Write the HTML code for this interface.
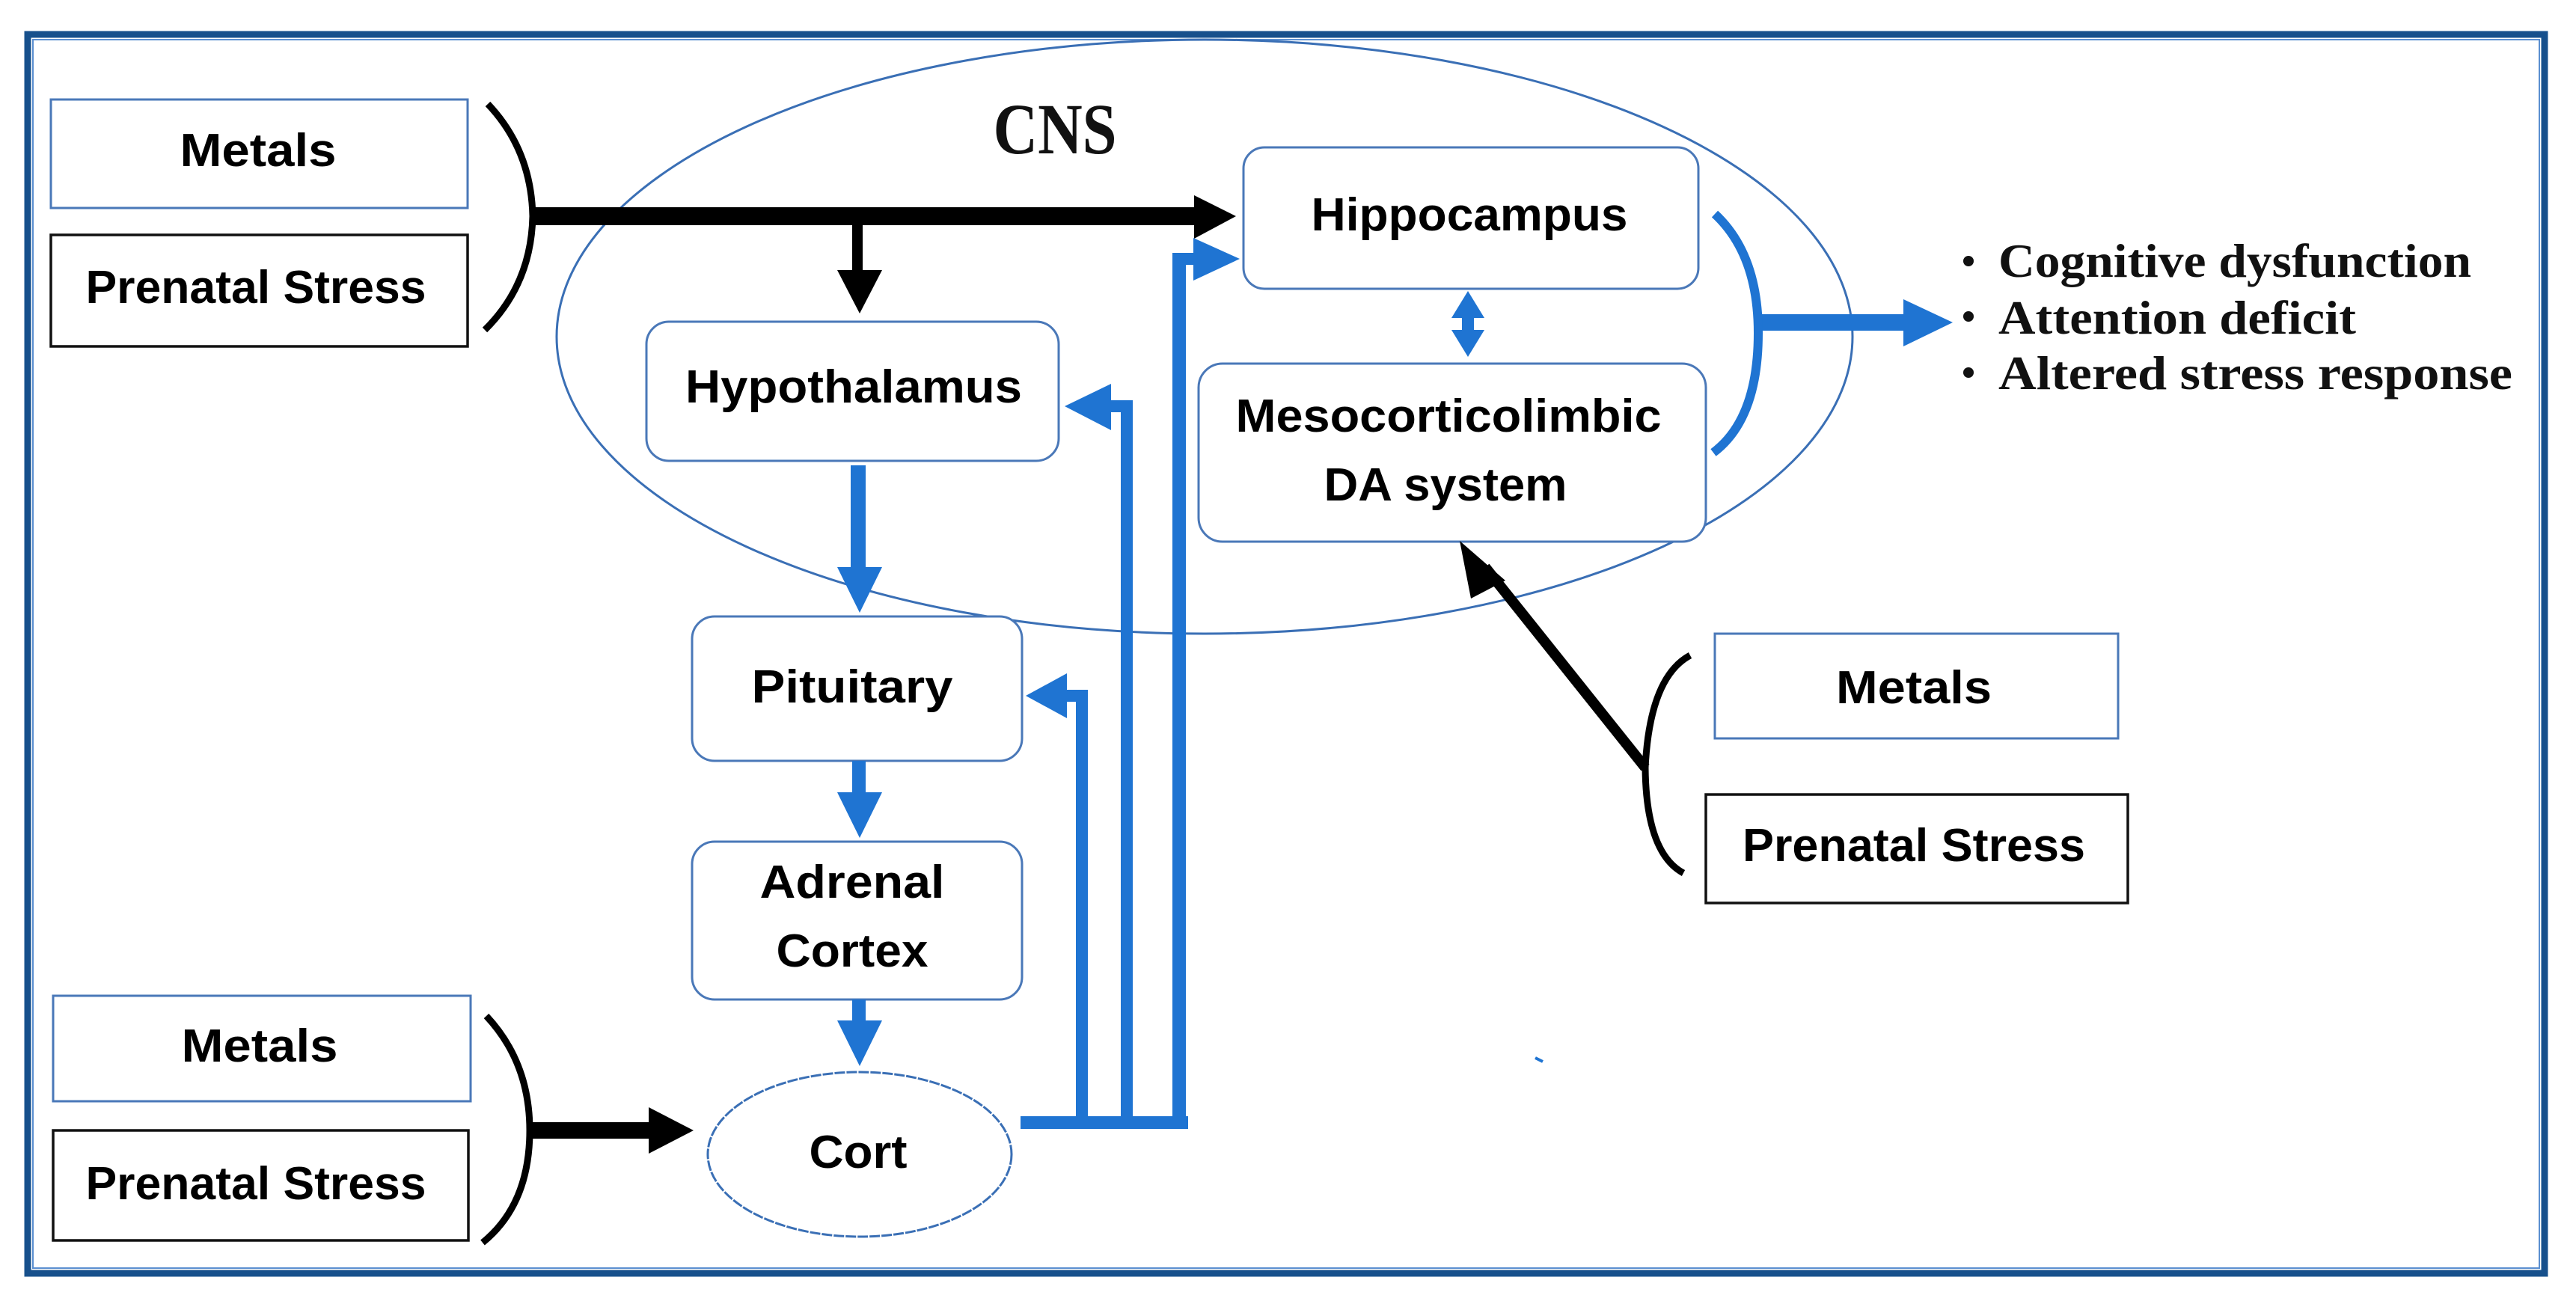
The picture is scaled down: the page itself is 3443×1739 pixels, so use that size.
<!DOCTYPE html>
<html><head><meta charset="utf-8"><style>
html,body{margin:0;padding:0;background:#fff}
svg{display:block}
.lbl{font-family:"Liberation Sans",sans-serif;font-weight:bold;font-size:62px;fill:#000}
.ser{font-family:"Liberation Serif",serif;font-weight:bold;fill:#111}
</style></head><body>
<svg width="3443" height="1739" viewBox="0 0 3443 1739" xmlns="http://www.w3.org/2000/svg">
<rect width="3443" height="1739" fill="#fff"/>
<rect x="37" y="46" width="3364" height="1656" fill="none" stroke="#17508c" stroke-width="9"/>
<rect x="44" y="53" width="3350" height="1642" fill="none" stroke="#5b8fd0" stroke-width="2"/>

<ellipse cx="1610" cy="450" rx="866" ry="397" fill="none" stroke="#3a6fb5" stroke-width="3"/>
<text x="1410" y="205" class="ser" font-size="96" text-anchor="middle" textLength="165" lengthAdjust="spacingAndGlyphs">CNS</text>

<rect x="68" y="133" width="557" height="145" fill="#fff" stroke="#4a78b8" stroke-width="3"/>
<text x="345" y="222" class="lbl" text-anchor="middle" textLength="209" lengthAdjust="spacingAndGlyphs">Metals</text>
<rect x="68" y="314" width="557" height="149" fill="#fff" stroke="#111" stroke-width="3.5"/>
<text x="342" y="405" class="lbl" text-anchor="middle" textLength="455" lengthAdjust="spacingAndGlyphs">Prenatal Stress</text>
<path d="M652 139 Q710 200 712 289 Q710 380 648 441" fill="none" stroke="#000" stroke-width="9"/>

<rect x="710" y="277" width="890" height="24" fill="#000"/>
<polygon points="1596,261 1652,289 1596,319" fill="#000"/>
<rect x="1139" y="295" width="14" height="70" fill="#000"/>
<polygon points="1119,361 1179,361 1149,419" fill="#000"/>

<rect x="1662" y="197" width="608" height="189" rx="28" fill="#fff" stroke="#4a78b8" stroke-width="3"/>
<text x="1964" y="308" class="lbl" text-anchor="middle" textLength="423" lengthAdjust="spacingAndGlyphs">Hippocampus</text>
<rect x="1602" y="486" width="678" height="238" rx="32" fill="#fff" stroke="#4a78b8" stroke-width="3"/>
<text x="1936" y="577" class="lbl" text-anchor="middle" textLength="569" lengthAdjust="spacingAndGlyphs">Mesocorticolimbic</text>
<text x="1932" y="669" class="lbl" text-anchor="middle" textLength="325" lengthAdjust="spacingAndGlyphs">DA system</text>

<rect x="864" y="430" width="551" height="186" rx="30" fill="#fff" stroke="#4a78b8" stroke-width="3"/>
<text x="1141" y="538" class="lbl" text-anchor="middle" textLength="450" lengthAdjust="spacingAndGlyphs">Hypothalamus</text>
<rect x="925" y="824" width="441" height="193" rx="30" fill="#fff" stroke="#4a78b8" stroke-width="3"/>
<text x="1139" y="939" class="lbl" text-anchor="middle" textLength="269" lengthAdjust="spacingAndGlyphs">Pituitary</text>
<rect x="925" y="1125" width="441" height="211" rx="30" fill="#fff" stroke="#4a78b8" stroke-width="3"/>
<text x="1139" y="1200" class="lbl" text-anchor="middle" textLength="247" lengthAdjust="spacingAndGlyphs">Adrenal</text>
<text x="1139" y="1292" class="lbl" text-anchor="middle" textLength="203" lengthAdjust="spacingAndGlyphs">Cortex</text>
<ellipse cx="1149" cy="1543" rx="203" ry="110" fill="#fff" stroke="#3a6fb5" stroke-width="3" stroke-dasharray="14 2"/>
<text x="1147" y="1561" class="lbl" text-anchor="middle" textLength="131" lengthAdjust="spacingAndGlyphs">Cort</text>

<g fill="#1f74d2">
<rect x="1137" y="622" width="20" height="140"/>
<polygon points="1119,758 1179,758 1149,819"/>
<rect x="1139" y="1017" width="18" height="45"/>
<polygon points="1119,1059 1179,1059 1149,1120"/>
<rect x="1139" y="1336" width="18" height="30"/>
<polygon points="1119,1364 1179,1364 1149,1425"/>
<polygon points="1962,389 1984,425 1940,425"/>
<polygon points="1962,477 1984,441 1940,441"/>
<rect x="1954" y="420" width="16" height="26"/>
<rect x="1364" y="1492" width="224" height="17"/>
<rect x="1438" y="925" width="16" height="584"/>
<rect x="1420" y="922" width="34" height="16"/>
<polygon points="1371,930 1426,900 1426,960"/>
<rect x="1498" y="537" width="16" height="972"/>
<rect x="1480" y="535" width="34" height="16"/>
<polygon points="1423,543 1485,513 1485,575"/>
<rect x="1567" y="338" width="18" height="1171"/>
<rect x="1567" y="338" width="34" height="16"/>
<polygon points="1657,346 1595,318 1595,375"/>
<rect x="2345" y="420" width="205" height="22"/>
<polygon points="2544,400 2610,431 2544,463"/>
<path d="M2052 1414 L2062 1419" stroke="#1f74d2" stroke-width="4"/>
</g>
<path d="M2292 286 Q2350 340 2350 445 Q2350 560 2290 605" fill="none" stroke="#1f74d2" stroke-width="12"/>

<g class="ser" font-size="64">
<circle cx="2631" cy="349" r="7" fill="#111"/>
<text x="2671" y="370" textLength="632" lengthAdjust="spacingAndGlyphs">Cognitive dysfunction</text>
<circle cx="2631" cy="423" r="7" fill="#111"/>
<text x="2671" y="446" textLength="478" lengthAdjust="spacingAndGlyphs">Attention deficit</text>
<circle cx="2631" cy="498" r="7" fill="#111"/>
<text x="2671" y="520" textLength="687" lengthAdjust="spacingAndGlyphs">Altered stress response</text>
</g>

<rect x="2292" y="847" width="539" height="140" fill="#fff" stroke="#4a78b8" stroke-width="3"/>
<text x="2558" y="940" class="lbl" text-anchor="middle" textLength="208" lengthAdjust="spacingAndGlyphs">Metals</text>
<rect x="2280" y="1062" width="564" height="145" fill="#fff" stroke="#111" stroke-width="3.5"/>
<text x="2558" y="1151" class="lbl" text-anchor="middle" textLength="458" lengthAdjust="spacingAndGlyphs">Prenatal Stress</text>
<path d="M2259 876 Q2205 905 2199 1026 Q2200 1140 2250 1167" fill="none" stroke="#000" stroke-width="9"/>
<line x1="2199" y1="1026" x2="1985" y2="758" stroke="#000" stroke-width="14"/>
<polygon points="1951,723 2012,776 1966,800" fill="#000"/>

<rect x="71" y="1331" width="558" height="141" fill="#fff" stroke="#4a78b8" stroke-width="3"/>
<text x="347" y="1419" class="lbl" text-anchor="middle" textLength="209" lengthAdjust="spacingAndGlyphs">Metals</text>
<rect x="71" y="1511" width="555" height="147" fill="#fff" stroke="#111" stroke-width="3.5"/>
<text x="342" y="1603" class="lbl" text-anchor="middle" textLength="455" lengthAdjust="spacingAndGlyphs">Prenatal Stress</text>
<path d="M650 1358 Q708 1420 708 1511 Q708 1610 645 1661" fill="none" stroke="#000" stroke-width="9"/>
<rect x="706" y="1500" width="165" height="22" fill="#000"/>
<polygon points="867,1480 927,1511 867,1542" fill="#000"/>
</svg>
</body></html>
